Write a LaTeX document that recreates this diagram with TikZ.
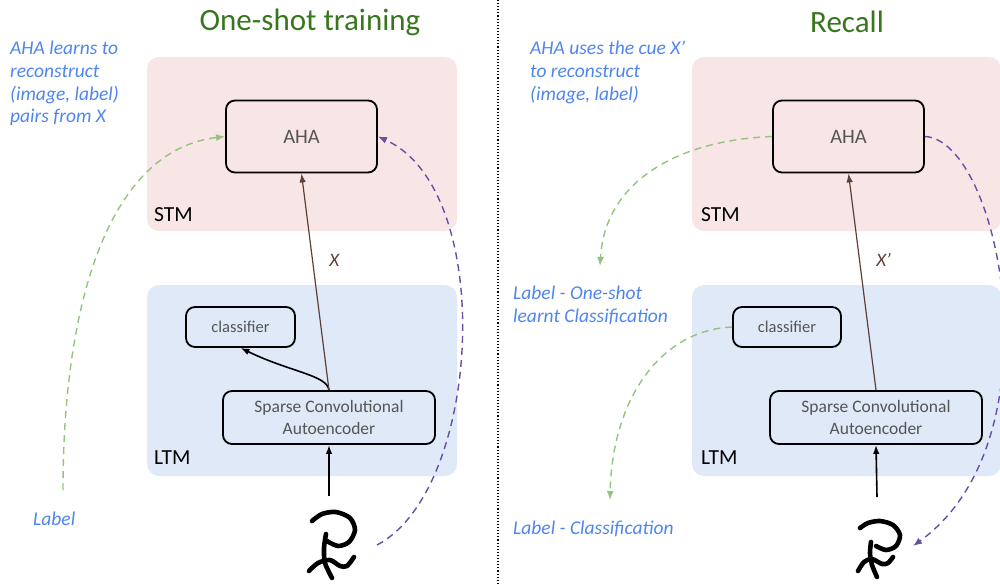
\documentclass[tikz,border=0pt]{standalone}
\usepackage{fontspec}
\setmainfont{Carlito}
\usetikzlibrary{arrows.meta}

\definecolor{stmpink}{HTML}{F8E5E5}
\definecolor{ltmblue}{HTML}{E0E9F8}
\definecolor{notecol}{HTML}{4F86EC}
\definecolor{titlecol}{HTML}{38761D}
\definecolor{greendash}{HTML}{93C47D}
\definecolor{purpdash}{HTML}{674EA7}
\definecolor{xbrown}{HTML}{5D4037}
\definecolor{boxtext}{HTML}{555555}

\tikzset{
  box/.style={draw, line width=1.8pt, rounded corners=9pt, text=boxtext,
    font=\fontsize{17.5}{22}\selectfont, align=center, inner sep=0pt},
  memlabel/.style={font=\fontsize{21.5}{24}\selectfont, anchor=west, inner sep=0pt},
  note/.style={text=notecol, font=\fontsize{19.5}{22.7}\selectfont\itshape,
    align=left, anchor=west, inner sep=0pt},
  heading/.style={text=titlecol, font=\fontsize{31}{34}\selectfont},
  feed/.style={line width=1.6pt, -{Latex[length=9pt,width=6.5pt]}},
  code/.style={xbrown, line width=1.2pt, -{Latex[length=9pt,width=6.5pt]}},
  gdash/.style={greendash, line width=1.4pt, dash pattern=on 7pt off 5pt,
    -{Latex[length=9pt,width=7pt]}},
  pdash/.style={purpdash, line width=1.4pt, dash pattern=on 7pt off 5pt,
    -{Latex[length=9pt,width=7pt]}},
  pen/.style={line width=4.6pt, line cap=round, line join=round},
}

\begin{document}
\begin{tikzpicture}[x=1pt, y=-1pt]
\useasboundingbox (0,0) rectangle (1000,583);
\clip (0,0) rectangle (1000,583);

% divider
\draw[line width=1.1pt, dotted] (498,0) -- (498,583);

% titles
\node[heading] (titleL) at (310,22) {One-shot training};
\node[heading] (titleR) at (847,22) {Recall};

% memory regions
\fill[stmpink, rounded corners=12pt] (147,57) rectangle (457,231);
\fill[ltmblue, rounded corners=12pt] (147,285) rectangle (457,476);
\fill[stmpink, rounded corners=12pt] (692,57) rectangle (1001,231);
\fill[ltmblue, rounded corners=12pt] (692,285) rectangle (1001,476);
\node[memlabel] (stmL) at (154,215) {STM};
\node[memlabel] (ltmL) at (154,458) {LTM};
\node[memlabel] (stmR) at (701,215) {STM};
\node[memlabel] (ltmR) at (701,458) {LTM};

% one-shot training
\node[box, minimum width=151, minimum height=72, font=\fontsize{20.5}{24}\selectfont] (ahaL) at (301.5,136.5) {AHA};
\node[box, minimum width=109, minimum height=40, font=\fontsize{16.5}{20}\selectfont] (clsL) at (240.5,327) {classifier};
\node[box, minimum width=212, minimum height=53] (scaL) at (329,417.5) {Sparse Convolutional\\Autoencoder};

\draw[pen] plot[smooth] coordinates {(312,521) (322,514) (336,512) (350,518) (355,530) (349,542) (338,546) (327,541)};
\draw[pen] plot[smooth] coordinates {(326,534) (324,548) (325,563) (332,578)};
\draw[pen] plot[smooth] coordinates {(309,571) (318,563) (330,560) (340,566) (347,566) (354,557)};
\coordinate (digL) at (329,496);
\coordinate (digLside) at (377,545);
\coordinate (lblLtop) at (63,490);

\draw[feed] (digL) -- (scaL.south);
\draw[feed] (scaL.north) .. controls (327,375) and (290,372) .. (clsL.south);
\draw[code] (scaL.north) -- node[pos=0.6, right=13pt, text=xbrown, font=\fontsize{19}{22}\selectfont\itshape] {X} (ahaL.south);
\draw[gdash] (lblLtop) .. controls (63,300) and (110,150) .. (ahaL.west);
\draw[pdash] (digLside) .. controls (482,490) and (497,190) .. (ahaL.east);

\node[note, anchor=north west] (noteL) at (10,41) {AHA learns to\\reconstruct\\(image, label)\\pairs from X};
\node[note] (lblL) at (33,519) {Label};

% recall
\node[box, minimum width=151, minimum height=72, font=\fontsize{20.5}{24}\selectfont] (ahaR) at (848.5,136.5) {AHA};
\node[box, minimum width=108, minimum height=40, font=\fontsize{16.5}{20}\selectfont] (clsR) at (787,327) {classifier};
\node[box, minimum width=212, minimum height=53] (scaR) at (876,417.5) {Sparse Convolutional\\Autoencoder};

\draw[pen] plot[smooth] coordinates {(860,528) (868,523) (880,521) (893,525) (900,535) (896,546) (886,550) (876,546)};
\draw[pen] plot[smooth] coordinates {(871,542) (870,553) (872,565) (877,577)};
\draw[pen] plot[smooth] coordinates {(858,571) (864,562) (872,559) (882,564) (888,563) (893,557)};
\coordinate (digR) at (877,497);
\coordinate (digRside) at (913,546);
\coordinate (cueout) at (600,266);
\coordinate (clsout) at (610,500);

\draw[feed] (digR) -- (scaR.south);
\draw[code] (scaR.north) -- node[pos=0.6, right=13pt, text=xbrown, font=\fontsize{19}{22}\selectfont\itshape] {X’} (ahaR.south);
\draw[gdash] (ahaR.west) .. controls (680,140) and (605,180) .. (cueout);
\draw[gdash] (clsR.west) .. controls (660,330) and (612,400) .. (clsout);
\draw[pdash] (ahaR.east) .. controls (1000,140) and (1060,440) .. (digRside);

\node[note, anchor=north west] (noteR) at (530,41) {AHA uses the cue X’\\to reconstruct\\(image, label)};
\node[note, anchor=north west] (lblR1) at (513,286) {Label - One-shot\\learnt Classification};
\node[note] (lblR2) at (513,529) {Label - Classification};
\end{tikzpicture}
\end{document}
